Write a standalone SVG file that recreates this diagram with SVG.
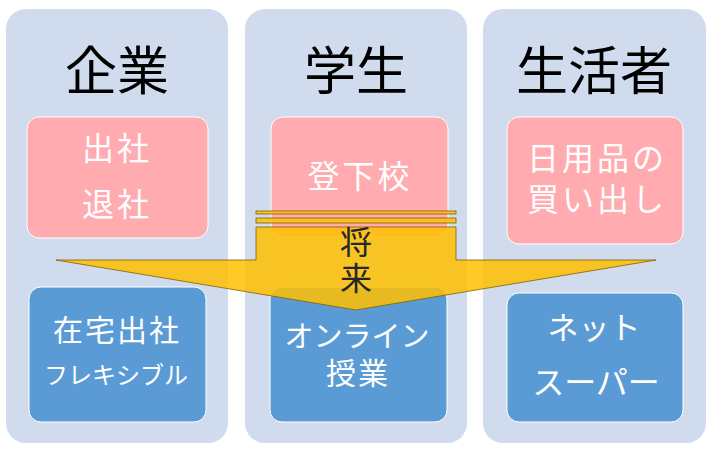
<svg xmlns="http://www.w3.org/2000/svg" width="716" height="455" viewBox="0 0 716 455">
<style>
.panel{fill:#D0DBEE}
.pink{fill:#FFABAF;stroke:#FFFFFF;stroke-width:1}
.blue{fill:#5B9BD5;stroke:#FFFFFF;stroke-width:1}
text{font-family:"Noto Sans CJK JP","Noto Sans CJK SC",sans-serif;text-anchor:middle}
.h{font-size:52px;fill:#000000}
.w{fill:#FFFFFF}
.pt{font-size:32px;letter-spacing:3px}
.arrow{fill:#FFC000;fill-opacity:0.85;stroke:#7F6000;stroke-width:0.8}
.lbl{font-size:32px;fill:#262626}
</style>
<rect width="716" height="455" fill="#FFFFFF"/>
<g id="col-kigyo">
<rect class="panel" x="6" y="9" width="222" height="434" rx="20"/>
<text class="h" x="117" y="90">企業</text>
</g>
<g id="col-gakusei">
<rect class="panel" x="245" y="9" width="222" height="434" rx="20"/>
<text class="h" x="356" y="90">学生</text>
</g>
<g id="col-seikatsusha">
<rect class="panel" x="483" y="9" width="223" height="434" rx="20"/>
<text class="h" x="594" y="90">生活者</text>
</g>
<g id="box-shussha">
<rect class="pink" x="27" y="117" width="181" height="121" rx="12"/>
<text class="w pt"><tspan x="117" y="160">出社</tspan><tspan x="117" y="216">退社</tspan></text>
</g>
<g id="box-togeko">
<rect class="pink" x="271" y="117" width="177" height="120" rx="12"/>
<text class="w pt" x="360" y="188">登下校</text>
</g>
<g id="box-kaidashi">
<rect class="pink" x="507" y="117" width="176" height="127" rx="12"/>
<text class="w pt"><tspan x="597" y="170">日用品の</tspan><tspan x="597" y="211">買い出し</tspan></text>
</g>
<g id="box-zaitaku">
<rect class="blue" x="29" y="287" width="177" height="135" rx="12"/>
<text class="w"><tspan x="117" y="341" font-size="30" letter-spacing="2">在宅出社</tspan><tspan x="116" y="384" font-size="24" letter-spacing="0">フレキシブル</tspan></text>
</g>
<g id="box-online">
<rect class="blue" x="270" y="287" width="177" height="135" rx="12"/>
<text class="w"><tspan x="357" y="347" font-size="29">オンライン</tspan><tspan x="358" y="384" font-size="30" letter-spacing="2">授業</tspan></text>
</g>
<g id="box-netsuper">
<rect class="blue" x="507" y="293" width="176" height="129" rx="12"/>
<text class="w"><tspan x="594" y="339" font-size="31">ネット</tspan><tspan x="596" y="394" font-size="32">スーパー</tspan></text>
</g>
<g id="connectors">
<g id="arrow-shorai">
<rect class="arrow" x="256" y="211" width="200" height="3"/>
<rect class="arrow" x="256" y="218" width="200" height="5"/>
<path class="arrow" d="M256,227 L456,227 L456,260 L656,260 L356,310 L56,260 L256,260 Z"/>
<text class="lbl"><tspan x="356" y="254">将</tspan><tspan x="356" y="290">来</tspan></text>
</g>
</g>
</svg>
